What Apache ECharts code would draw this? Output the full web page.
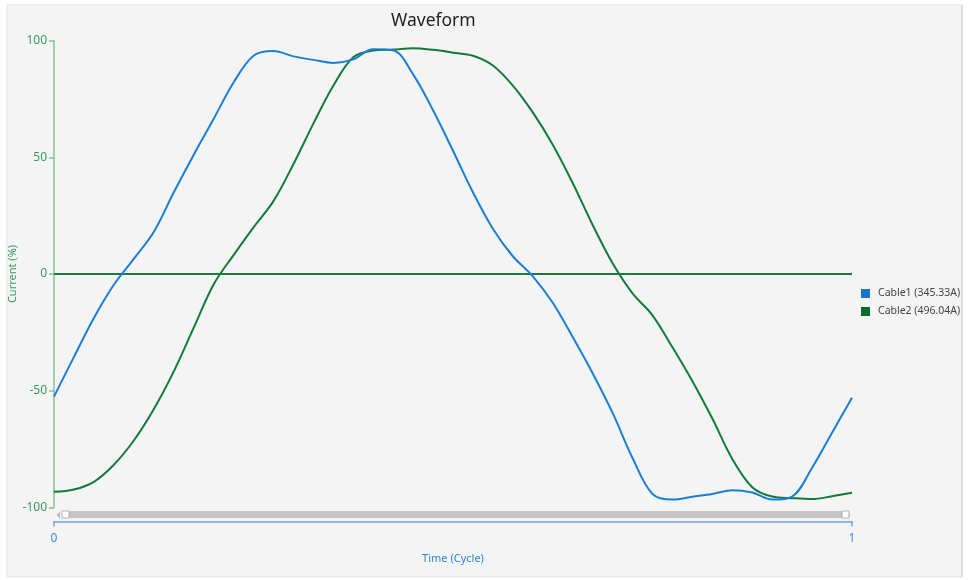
<!DOCTYPE html>
<html>
<head>
<meta charset="utf-8">
<title>Waveform</title>
<script src="https://cdn.jsdelivr.net/npm/echarts@6/dist/echarts.min.js"></script>
<style>
  html, body { margin: 0; padding: 0; background: #ffffff; }
  #chart { width: 969px; height: 580px; }
</style>
</head>
<body>
<div id="chart"></div>
<script>
// Sample positions along one cycle
const timeCycle = [
  0, 0.025, 0.05, 0.075, 0.1, 0.125, 0.15, 0.175, 0.2, 0.225,
  0.25, 0.275, 0.3, 0.325, 0.35, 0.375, 0.4, 0.425, 0.45, 0.475,
  0.5, 0.525, 0.55, 0.575, 0.6, 0.625, 0.65, 0.675, 0.7, 0.725,
  0.75, 0.775, 0.8, 0.825, 0.85, 0.875, 0.9, 0.925, 0.95, 0.975, 1
];

// Current in % of peak for each cable
const cable1 = [
  -52.5, -35.5, -18.8, -4.6, 6.5, 18.0, 34.9, 51.0, 66.4, 82.0,
  93.5, 95.5, 93.2, 91.7, 90.4, 91.9, 96.3, 95.8, 85.5, 70.1,
  52.8, 35.0, 19.4, 7.6, -1.0, -12.3, -27.0, -42.5, -59.5, -78.8,
  -94.2, -96.6, -95.4, -94.2, -92.6, -93.6, -96.6, -95.3, -83.0, -68.0, -53.0
];
const cable2 = [
  -93.3, -92.3, -89.0, -81.7, -71.3, -57.9, -41.8, -23.1, -4.5, 8.1,
  20.0, 31.2, 47.0, 64.4, 80.6, 92.8, 95.7, 96.1, 96.7, 96.0,
  94.8, 93.5, 89.3, 80.7, 69.2, 55.4, 39.0, 21.0, 4.6, -8.3,
  -17.7, -31.4, -45.9, -61.9, -79.2, -91.3, -95.3, -96.0, -96.4, -95.2, -93.7
];

// Zero reference level
const zeroLevel = 0;

const seriesNames = ['Cable1 (345.33A)', 'Cable2 (496.04A)'];
const yTicks = { min: -100, max: 100, interval: 50 };
const xTicks = { min: 0, max: 1, interval: 1 };

const blue = '#1a7fd4';
const green = '#137a3c';
const font = '"Noto Sans", "Open Sans", sans-serif';

function pairs(values) {
  return timeCycle.map((t, i) => [t, values[i]]);
}

const chart = echarts.init(document.getElementById('chart'));
chart.setOption({
  backgroundColor: '#ffffff',
  animation: false,
  textStyle: { fontFamily: font },
  graphic: [
    {
      type: 'rect', z: -10, silent: true,
      shape: { x: 7, y: 5, width: 955, height: 572 },
      style: { fill: '#f4f4f4', stroke: '#e2e2e2', lineWidth: 1 }
    },
    {
      type: 'line', z: -9, silent: true,
      shape: { x1: 962, y1: 5, x2: 962, y2: 577 },
      style: { stroke: '#c9c9d6', lineWidth: 1 }
    },
    // scrollbar arrows
    {
      type: 'polygon', silent: true,
      shape: { points: [[60, 511.5], [60, 518.5], [56.5, 515]] },
      style: { fill: '#b8b8b8' }
    },
    {
      type: 'polygon', silent: true,
      shape: { points: [[847, 511.5], [847, 518.5], [850.5, 515]] },
      style: { fill: '#b8b8b8' }
    }
  ],
  title: {
    text: 'Waveform',
    left: 386,
    top: 7,
    textStyle: { fontFamily: font, fontSize: 17.5, fontWeight: 'normal', color: '#1e1e1e' }
  },
  legend: {
    orient: 'vertical',
    left: 856,
    top: 283,
    itemWidth: 9,
    itemHeight: 9,
    itemGap: 7,
    icon: 'rect',
    data: [
      { name: seriesNames[0], itemStyle: { color: '#1874cd' } },
      { name: seriesNames[1], itemStyle: { color: '#0b6b33' } }
    ],
    textStyle: { fontFamily: font, fontSize: 10.5, color: '#444444', padding: [0, 0, 0, 3] }
  },
  grid: {
    left: 54, right: 117, top: 40.5, bottom: 72.5,
    containLabel: false,
    outerBoundsMode: 'none'
  },
  dataZoom: [{
    type: 'slider',
    xAxisIndex: 0,
    filterMode: 'none',
    start: 0,
    end: 100,
    left: 63,
    right: 124,
    bottom: 62,
    height: 7,
    showDetail: false,
    showDataShadow: false,
    brushSelect: false,
    moveHandleSize: 0,
    backgroundColor: '#c4c4c4',
    fillerColor: '#c4c4c4',
    borderColor: 'transparent',
    dataBackground: { lineStyle: { opacity: 0 }, areaStyle: { opacity: 0 } },
    handleIcon: 'path://M0,0H10V10H0Z',
    handleSize: '100%',
    handleStyle: { color: '#ffffff', borderColor: '#b0b0b0', borderWidth: 1 }
  }],
  xAxis: {
    type: 'value',
    min: xTicks.min,
    max: xTicks.max,
    interval: xTicks.interval,
    offset: 14,
    name: 'Time (Cycle)',
    nameLocation: 'middle',
    nameGap: 32,
    nameTextStyle: { color: '#2f86d6', fontSize: 11, fontFamily: font },
    axisLine: { onZero: false, lineStyle: { color: '#6aa6e0', width: 1.5 } },
    axisTick: { show: true, length: 5, lineStyle: { color: '#6aa6e0', width: 1.5 } },
    axisLabel: { color: '#3a8fd9', fontSize: 12, margin: 11, fontFamily: font },
    splitLine: { show: false }
  },
  yAxis: {
    type: 'value',
    min: yTicks.min,
    max: yTicks.max,
    interval: yTicks.interval,
    name: 'Current (%)',
    nameLocation: 'middle',
    nameGap: 36,
    nameMoveOverlap: false,
    nameTextStyle: { color: '#3a9a62', fontSize: 11, fontFamily: font },
    axisLine: { show: true, onZero: false, lineStyle: { color: '#86c09c', width: 1.5 } },
    axisTick: { show: true, length: 5, lineStyle: { color: '#86c09c', width: 1.5 } },
    axisLabel: { color: '#3a9a62', fontSize: 12, margin: 7, fontFamily: font },
    splitLine: { show: false }
  },
  series: [
    {
      name: 'zero',
      type: 'line',
      data: [[xTicks.min, zeroLevel], [xTicks.max, zeroLevel]],
      showSymbol: false,
      silent: true,
      lineStyle: { color: '#1d7a40', width: 2 },
      z: 1
    },
    {
      name: seriesNames[0],
      type: 'line',
      data: pairs(cable1),
      smooth: 0.35,
      showSymbol: false,
      color: blue,
      lineStyle: { color: blue, width: 2 },
      z: 3
    },
    {
      name: seriesNames[1],
      type: 'line',
      data: pairs(cable2),
      smooth: 0.35,
      showSymbol: false,
      color: green,
      lineStyle: { color: green, width: 2 },
      z: 2
    }
  ]
});
</script>
</body>
</html>
